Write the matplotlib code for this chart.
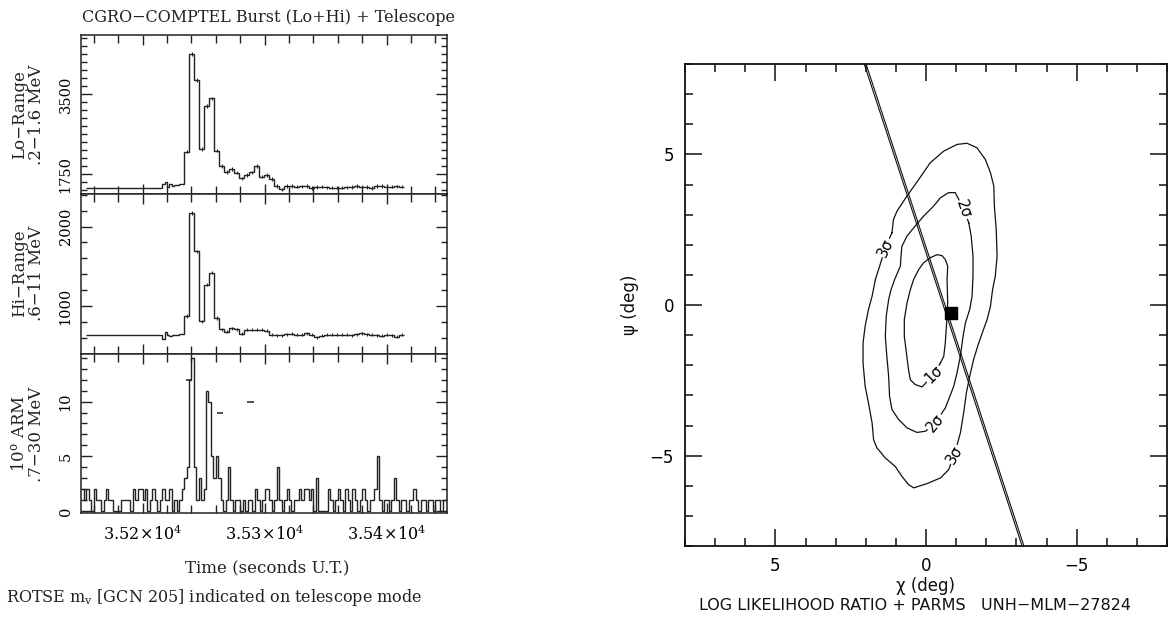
import numpy as np
import matplotlib
matplotlib.use("Agg")
import matplotlib.pyplot as plt
from matplotlib.ticker import MultipleLocator, FixedLocator, FuncFormatter, NullFormatter

plt.rcParams["font.family"] = ["DejaVu Serif"]
plt.rcParams["mathtext.fontset"] = "dejavuserif"

# ---------------- COMPTEL light curves ----------------
# bin edges (s U.T.)
lc_edges = [35154.0, 35216.0, 35218.0, 35220.0, 35222.0, 35224.0, 35226.0, 35228.0,
            35230.0, 35232.0, 35234.0, 35238.1, 35242.2, 35246.3, 35250.4, 35254.5,
            35258.6, 35262.7, 35266.8, 35270.9, 35275.0, 35279.1, 35283.2, 35287.3,
            35291.4, 35295.5, 35299.6, 35303.7, 35307.8, 35311.9, 35316.0, 35320.1,
            35324.2, 35328.3, 35332.4, 35336.5, 35340.6, 35344.7, 35348.8, 35352.9,
            35357.0, 35361.1, 35365.2, 35369.3, 35373.4, 35377.5, 35381.6, 35385.7,
            35389.8, 35393.9, 35398.0, 35402.1, 35406.2, 35410.3, 35414.4]
# Lo-Range 0.2-1.6 MeV counts
lo_counts = [1457, 1530, 1575, 1480, 1540, 1500, 1520, 1510, 1540, 1540,
             2244, 4382, 3813, 2303, 3244, 3413, 2266, 1932, 1800, 1866,
             1785, 1662, 1735, 1794, 1932, 1698, 1735, 1647, 1494, 1422,
             1494, 1494, 1480, 1490, 1494, 1450, 1470, 1475, 1465, 1460,
             1455, 1460, 1465, 1470, 1494, 1480, 1470, 1450, 1494, 1494,
             1480, 1480, 1485, 1475]
# Hi-Range 0.6-11 MeV counts
hi_counts = [640, 593, 685, 640, 625, 640, 640, 645, 650, 655,
             879, 2168, 1689, 811, 1273, 1421, 854, 715, 685, 728,
             715, 656, 706, 706, 706, 706, 698, 644, 636, 640,
             652, 656, 648, 644, 664, 644, 615, 631, 644, 648,
             648, 644, 648, 640, 652, 664, 652, 644, 640, 631,
             644, 640, 619, 648]
lo_err = 35
hi_err = 20

# 10 deg ARM telescope-mode counts, 2 s bins starting 35150 s
arm_t0 = 35150.0
arm_dt = 2.0
arm_counts = [2, 1, 2, 1, 0, 2, 1, 1, 0, 1, 2, 1, 1,
              0, 0, 0, 1, 1, 1, 1, 0,
              2, 1, 2, 2, 1, 2,
              0, 1, 2, 1, 0, 1, 2, 1, 1, 2, 0, 1, 0, 1, 2,
              3, 4, 12, 14, 4, 1, 3, 1, 2, 11, 10, 5, 3, 5, 3, 1,
              0, 1, 4, 1, 0, 1, 1, 0, 1, 0, 1, 1, 0, 2, 1, 0, 1, 2, 2, 1, 0, 1,
              4, 1, 0, 1, 2, 1, 0, 1, 1, 2, 1, 2, 2, 1, 2, 0, 3, 0, 0, 0, 0,
              2, 1, 0, 1, 2, 1, 0, 2, 1, 0, 2, 1, 0, 1, 2, 1, 0, 1, 1, 2, 5,
              1, 0, 1, 1, 0, 1, 3, 1, 0, 1, 1, 0, 1, 1, 2, 1, 0, 1, 1, 0, 1, 1,
              0, 1, 1, 0, 1, 1]
# ROTSE m_v markers
rotse_t_start = [35235.5, 35260.7, 35285.8]
rotse_t_end = [35240.7, 35266.2, 35291.6]
rotse_mv = [12, 9, 10]

# ---------------- likelihood map ----------------
c1_chi = [-0.48, -0.59, -0.64, -0.67, -0.70, -0.72, -0.70, -0.72, -0.64, -0.53, -0.37, -0.14,
          0.08, 0.24, 0.41, 0.52, 0.63, 0.72, 0.72, 0.65, 0.58, 0.52, 0.36, 0.13, -0.25, -0.48]
c1_psi = [-1.92, -1.70, -1.26, -0.81, -0.37, 0.07, 0.85, 1.29, 1.51, 1.64, 1.67, 1.57,
          1.40, 1.18, 0.85, 0.51, 0.07, -0.48, -1.04, -1.59, -2.15, -2.48, -2.64, -2.72, -2.31, -1.92]
c2_chi = [-1.42, -1.50, -1.56, -1.56, -1.53, -1.45, -1.31, -1.23, -1.14, -1.03, -0.92, -0.75,
          -0.64, -0.31, 0.02, 0.30, 0.63, 0.91, 1.13, 1.21, 1.24, 1.30, 1.35, 1.32, 1.24, 1.16,
          1.02, 0.85, 0.83, 0.80, 0.63, 0.36, 0.08, -0.25, -0.48, -0.75, -0.97, -1.06, -1.25, -1.42]
c2_psi = [2.73, 2.29, 1.62, 0.96, 0.29, -0.15, -0.59, -1.04, -1.70, -2.25, -2.70, -3.14,
          -3.42, -3.91, -4.19, -4.23, -4.08, -3.80, -3.47, -3.03, -2.37, -1.70, -1.04, -0.37, 0.18, 0.51,
          0.90, 1.29, 1.62, 1.95, 2.29, 2.62, 2.95, 3.28, 3.56, 3.73, 3.73, 3.56, 3.17, 2.73]
c3_chi = [1.13, 1.08, 0.96, 0.63, 0.24, -0.14, -0.59, -1.03, -1.36, -1.69, -1.97, -2.14,
          -2.25, -2.27, -2.33, -2.36, -2.30, -2.21, -2.14, -2.03, -1.91, -1.75, -1.58, -1.45,
          -1.34, -1.25, -1.14, -0.94, -0.75, -0.48, -0.03, 0.41, 0.58, 0.80, 1.02, 1.35, 1.63,
          1.74, 1.79, 1.91, 2.02, 2.09, 2.09, 2.02, 1.91, 1.79, 1.68, 1.52, 1.35, 1.13]
c3_psi = [2.40, 2.84, 3.12, 3.62, 4.17, 4.72, 5.11, 5.33, 5.37, 5.22, 4.83, 4.39,
          3.95, 3.28, 2.51, 1.62, 0.96, 0.51, -0.04, -0.48, -0.81, -1.26, -1.81, -2.37,
          -2.92, -3.58, -4.25, -4.97, -5.47, -5.74, -5.93, -6.07, -5.96, -5.69, -5.36, -5.08, -4.74,
          -4.47, -3.91, -3.25, -2.70, -1.92, -1.26, -0.70, -0.15, 0.29, 0.85, 1.35, 1.90, 2.40]
label_text = ["1σ", "2σ", "2σ", "3σ", "3σ"]
label_chi = [-0.25, -0.31, -1.25, 1.35, -0.94]
label_psi = [-2.31, -3.91, 3.17, 1.90, -4.97]
label_rot = [45, 50, -70, 65, 60]
ann_chi_a = [1.99, -3.25]
ann_chi_b = [2.05, -3.19]
ann_psi = [8.0, -8.0]
best_chi = [-0.82]
best_psi = [-0.28]

# ---------------- figure ----------------
W, H = 1169, 619
fig = plt.figure(figsize=(W / 100, H / 100), dpi=100)


def ax_at(x0, y0, x1, y1):
    return fig.add_axes([x0 / W, 1 - y1 / H, (x1 - x0) / W, (y1 - y0) / H])


def fx(x):
    return x / W


def fy(y):
    return 1 - y / H


ax_lo = ax_at(81, 35, 447, 194)
ax_hi = ax_at(81, 194, 447, 354)
ax_arm = ax_at(81, 354, 447, 513)
ax_r = ax_at(685, 64, 1167, 546)

edges = np.array(lc_edges)
centers = 0.5 * (edges[:-1] + edges[1:])

for ax, counts, err in [(ax_lo, lo_counts, lo_err), (ax_hi, hi_counts, hi_err)]:
    ax.stairs(counts, edges, baseline=None, color="#222222", lw=1.0)
    ax.errorbar(centers[10:], counts[10:], yerr=err, fmt="none", ecolor="#222222", elinewidth=0.8)

arm_edges = arm_t0 + arm_dt * np.arange(len(arm_counts) + 1)
ax_arm.stairs(arm_counts, arm_edges, baseline=None, color="#222222", lw=1.0)
ax_arm.hlines(rotse_mv, rotse_t_start, rotse_t_end, color="#222222", lw=1.1)

ax_lo.set_ylim(1319, 4797)
ax_hi.set_ylim(404, 2407)
ax_arm.set_ylim(-0.18, 14.35)

ytick_cfg = [(ax_lo, [1750, 3500], 175), (ax_hi, [1000, 2000], 200), (ax_arm, [0, 5, 10], 1)]
for ax, majors, minor in ytick_cfg:
    ax.set_xlim(35149.5, 35449.5)
    ax.xaxis.set_major_locator(FixedLocator([35200, 35300, 35400]))
    ax.xaxis.set_minor_locator(MultipleLocator(20))
    ax.yaxis.set_major_locator(FixedLocator(majors))
    ax.yaxis.set_minor_locator(MultipleLocator(minor))
    ax.tick_params(which="both", direction="in", top=True, right=True, width=1.0, color="#222222")
    ax.tick_params(axis="x", which="major", length=7)
    ax.tick_params(axis="x", which="minor", length=6)
    ax.tick_params(axis="y", which="major", length=8, labelsize=10.5, pad=6)
    ax.tick_params(axis="y", which="minor", length=4.5)
    for lab in ax.get_yticklabels():
        lab.set_rotation(90)
        lab.set_va("center")
    for s in ax.spines.values():
        s.set_linewidth(1.1)
        s.set_color("#222222")
    if ax is not ax_arm:
        ax.xaxis.set_major_formatter(NullFormatter())

ax_arm.xaxis.set_major_formatter(FuncFormatter(lambda v, p: r"$%.2f\!\times\!10^{4}$" % (v / 1e4)))
ax_arm.tick_params(axis="x", which="major", labelsize=11.5, pad=8)

# left-panel texts
fig.text(fx(82), fy(17), "CGRO\u2212COMPTEL Burst (Lo+Hi) + Telescope", fontsize=11.5,
         ha="left", va="center", color="#222222")
ylabels = [("Lo\u2212Range\n.2\u22121.6 MeV", 115), ("Hi\u2212Range\n.6\u221211 MeV", 273),
           ("10$^{\\mathrm{o}}$ ARM\n.7\u221230 MeV", 434)]
for txt, yc in ylabels:
    fig.text(fx(28), fy(yc), txt, rotation=90, ha="center", va="center", fontsize=12,
             linespacing=0.95, multialignment="center", color="#222222")
fig.text(fx(267), fy(568), "Time (seconds U.T.)", ha="center", va="center", fontsize=12,
         color="#222222")
fig.text(fx(6), fy(598), "ROTSE m$_{\\mathrm{v}}$ [GCN 205] indicated on telescope mode",
         ha="left", va="center", fontsize=11.5, color="#222222")

# ---------------- right panel ----------------
sans = "DejaVu Sans"
for cx, cy in [(c1_chi, c1_psi), (c2_chi, c2_psi), (c3_chi, c3_psi)]:
    ax_r.plot(cx, cy, color="#111111", lw=0.9)
for t, cx, cy, rot in zip(label_text, label_chi, label_psi, label_rot):
    ax_r.text(cx, cy, t, rotation=rot, ha="center", va="center", fontsize=10.5, family=sans,
              rotation_mode="anchor",
              bbox=dict(boxstyle="square,pad=0.05", fc="white", ec="none"))
ax_r.plot(ann_chi_a, ann_psi, color="#111111", lw=0.8)
ax_r.plot(ann_chi_b, ann_psi, color="#111111", lw=0.8)
ax_r.plot(best_chi, best_psi, marker="s", ms=8, color="black", ls="none")

ax_r.set_xlim(8, -8)
ax_r.set_ylim(-8, 8)
ax_r.xaxis.set_major_locator(MultipleLocator(5))
ax_r.yaxis.set_major_locator(MultipleLocator(5))
ax_r.xaxis.set_minor_locator(MultipleLocator(1))
ax_r.yaxis.set_minor_locator(MultipleLocator(1))
ax_r.xaxis.set_major_formatter(FuncFormatter(lambda v, p: ("%d" % v).replace("-", "\u2212")))
ax_r.yaxis.set_major_formatter(FuncFormatter(lambda v, p: ("%d" % v).replace("-", "\u2212")))
ax_r.tick_params(which="both", direction="in", top=True, right=True, width=1.1, color="#111111")
ax_r.tick_params(which="major", length=12, labelsize=12, pad=8)
ax_r.tick_params(which="minor", length=6)
for lab in ax_r.get_xticklabels() + ax_r.get_yticklabels():
    lab.set_family(sans)
for s in ax_r.spines.values():
    s.set_linewidth(1.3)
    s.set_color("#111111")

fig.text(fx(630), fy(305), "\u03c8 (deg)", rotation=90, ha="center", va="center",
         fontsize=12, family=sans, color="#111111")
fig.text(fx(925), fy(586), "\u03c7 (deg)", ha="center", va="center",
         fontsize=12, family=sans, color="#111111")
fig.text(fx(915), fy(606), "LOG LIKELIHOOD RATIO + PARMS   UNH\u2212MLM\u221227824", ha="center",
         va="center", fontsize=11.5, family=sans, color="#111111")

fig.savefig("out.png", dpi=100)
